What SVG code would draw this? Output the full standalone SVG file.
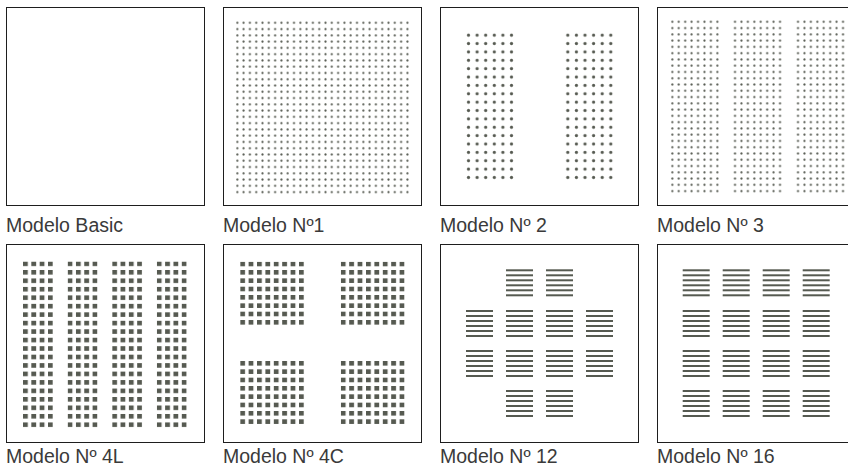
<svg xmlns="http://www.w3.org/2000/svg" xmlns:xlink="http://www.w3.org/1999/xlink" width="848" height="470" viewBox="0 0 848 470">
<style>
.frame{fill:#fff;stroke:#1e1e1e;stroke-width:1}
.lbl{font-family:"Liberation Sans",Arial,sans-serif;font-size:19.5px;fill:#3a3a3a}
.ink{fill:#565a51}
</style>
<defs>
<pattern id="pA" patternUnits="userSpaceOnUse" x="0" y="0" width="6.3" height="6.27"><circle class="ink" cx="3.15" cy="3.135" r="1.05"/></pattern>
<pattern id="pB" patternUnits="userSpaceOnUse" x="0" y="0" width="8.6" height="8.37"><circle class="ink" cx="4.3" cy="4.185" r="1.6"/></pattern>
<pattern id="pC" patternUnits="userSpaceOnUse" x="0" y="0" width="6.43" height="6.27"><circle class="ink" cx="3.215" cy="3.135" r="1.05"/></pattern>
<pattern id="pD" patternUnits="userSpaceOnUse" x="0" y="0" width="8.33" height="8.47"><rect class="ink" x="0" y="0" width="4.8" height="4.6"/></pattern>
<pattern id="pE" patternUnits="userSpaceOnUse" x="0" y="0" width="8.4" height="8.33"><rect class="ink" x="0" y="0" width="4.8" height="4.6"/></pattern>
<g id="lines" class="ink">
<rect x="0" y="0" width="27" height="2"/>
<rect x="0" y="5" width="27" height="2"/>
<rect x="0" y="10" width="27" height="2"/>
<rect x="0" y="15" width="27" height="2"/>
<rect x="0" y="20" width="27" height="2"/>
<rect x="0" y="25" width="27" height="2"/>
</g>
</defs>
<rect width="848" height="470" fill="#fff"/>

<g id="modelo-basic">
<rect class="frame" x="6.5" y="7.5" width="198" height="198"/>
<text class="lbl" x="6" y="232">Modelo Basic</text>
</g>

<g id="modelo-1">
<rect class="frame" x="223.5" y="7.5" width="198" height="198"/>
<rect transform="translate(234.15,19.665)" x="0" y="0" width="176.4" height="175.56" fill="url(#pA)"/>
<text class="lbl" x="223" y="232">Modelo Nº1</text>
</g>

<g id="modelo-2">
<rect class="frame" x="440.5" y="7.5" width="198" height="198"/>
<rect transform="translate(464.2,31)" x="0" y="0" width="51.6" height="150.66" fill="url(#pB)"/>
<rect transform="translate(563.5,31)" x="0" y="0" width="51.6" height="150.66" fill="url(#pB)"/>
<text class="lbl" x="440" y="232">Modelo Nº 2</text>
</g>

<g id="modelo-3">
<rect class="frame" x="657.5" y="7.5" width="198" height="198"/>
<rect transform="translate(669.1,18.665)" x="0" y="0" width="51.44" height="175.56" fill="url(#pC)"/>
<rect transform="translate(731.8,18.665)" x="0" y="0" width="51.44" height="175.56" fill="url(#pC)"/>
<rect transform="translate(794.8,18.665)" x="0" y="0" width="51.44" height="175.56" fill="url(#pC)"/>
<text class="lbl" x="657" y="232">Modelo Nº 3</text>
</g>

<g id="modelo-4l">
<rect class="frame" x="6.5" y="244.5" width="198" height="198"/>
<rect transform="translate(23,261.5)" x="0" y="0" width="30" height="166" fill="url(#pD)"/>
<rect transform="translate(67.6,261.5)" x="0" y="0" width="30" height="166" fill="url(#pD)"/>
<rect transform="translate(112.2,261.5)" x="0" y="0" width="30" height="166" fill="url(#pD)"/>
<rect transform="translate(156.8,261.5)" x="0" y="0" width="30" height="166" fill="url(#pD)"/>
<text class="lbl" x="6" y="463">Modelo Nº 4L</text>
</g>

<g id="modelo-4c">
<rect class="frame" x="223.5" y="244.5" width="198" height="198"/>
<rect transform="translate(240.2,261.7)" x="0" y="0" width="64" height="63.5" fill="url(#pE)"/>
<rect transform="translate(340.8,261.7)" x="0" y="0" width="64" height="63.5" fill="url(#pE)"/>
<rect transform="translate(240.2,361)" x="0" y="0" width="64" height="63.5" fill="url(#pE)"/>
<rect transform="translate(340.8,361)" x="0" y="0" width="64" height="63.5" fill="url(#pE)"/>
<text class="lbl" x="223" y="463">Modelo Nº 4C</text>
</g>

<g id="modelo-12">
<rect class="frame" x="440.5" y="244.5" width="198" height="198"/>
<use xlink:href="#lines" href="#lines" x="506" y="269.3"/>
<use xlink:href="#lines" href="#lines" x="546" y="269.3"/>
<use xlink:href="#lines" href="#lines" x="466" y="310"/>
<use xlink:href="#lines" href="#lines" x="506" y="310"/>
<use xlink:href="#lines" href="#lines" x="546" y="310"/>
<use xlink:href="#lines" href="#lines" x="586" y="310"/>
<use xlink:href="#lines" href="#lines" x="466" y="350"/>
<use xlink:href="#lines" href="#lines" x="506" y="350"/>
<use xlink:href="#lines" href="#lines" x="546" y="350"/>
<use xlink:href="#lines" href="#lines" x="586" y="350"/>
<use xlink:href="#lines" href="#lines" x="506" y="390"/>
<use xlink:href="#lines" href="#lines" x="546" y="390"/>
<text class="lbl" x="440" y="463">Modelo Nº 12</text>
</g>

<g id="modelo-16">
<rect class="frame" x="657.5" y="244.5" width="198" height="198"/>
<use xlink:href="#lines" href="#lines" x="682.7" y="269.3"/>
<use xlink:href="#lines" href="#lines" x="722.7" y="269.3"/>
<use xlink:href="#lines" href="#lines" x="762.7" y="269.3"/>
<use xlink:href="#lines" href="#lines" x="802.7" y="269.3"/>
<use xlink:href="#lines" href="#lines" x="682.7" y="310"/>
<use xlink:href="#lines" href="#lines" x="722.7" y="310"/>
<use xlink:href="#lines" href="#lines" x="762.7" y="310"/>
<use xlink:href="#lines" href="#lines" x="802.7" y="310"/>
<use xlink:href="#lines" href="#lines" x="682.7" y="350"/>
<use xlink:href="#lines" href="#lines" x="722.7" y="350"/>
<use xlink:href="#lines" href="#lines" x="762.7" y="350"/>
<use xlink:href="#lines" href="#lines" x="802.7" y="350"/>
<use xlink:href="#lines" href="#lines" x="682.7" y="390"/>
<use xlink:href="#lines" href="#lines" x="722.7" y="390"/>
<use xlink:href="#lines" href="#lines" x="762.7" y="390"/>
<use xlink:href="#lines" href="#lines" x="802.7" y="390"/>
<text class="lbl" x="657" y="463">Modelo Nº 16</text>
</g>
</svg>
